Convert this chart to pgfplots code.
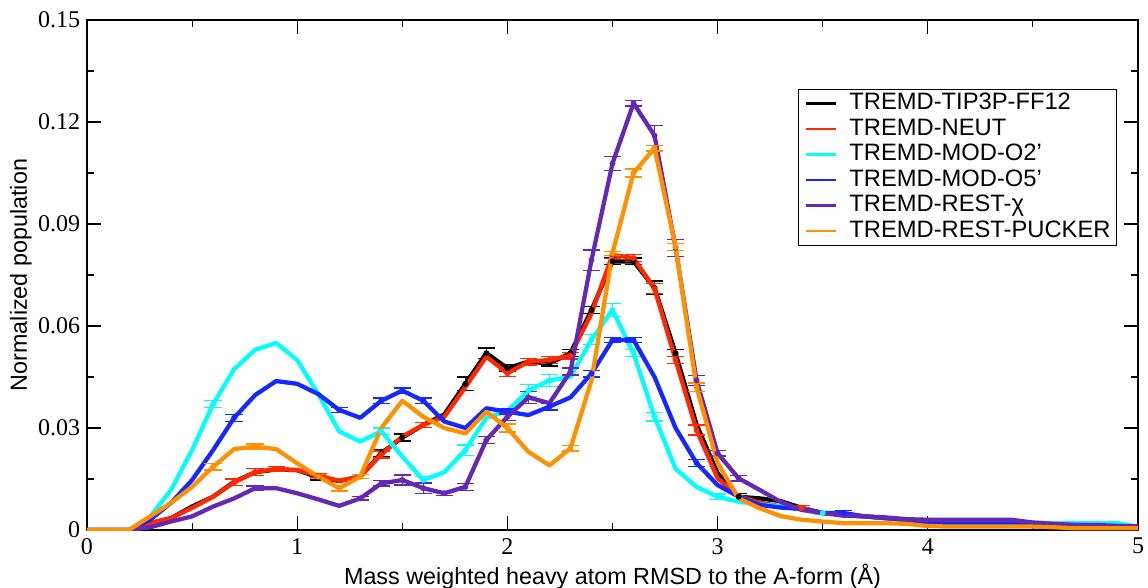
\documentclass[border=0pt]{standalone}
\usepackage{pgfplots}
\pgfplotsset{compat=1.18}
\usepackage{fontspec}
\setmainfont{Liberation Serif}
\newfontfamily\arial{Liberation Sans}
\definecolor{cBlack}{RGB}{0,0,0}
\definecolor{cRed}{RGB}{255,40,0}
\definecolor{cCyan}{RGB}{0,255,255}
\definecolor{cBlue}{RGB}{20,40,255}
\definecolor{cPurple}{RGB}{100,40,180}
\definecolor{cOrange}{RGB}{255,145,0}

\pgfplotstableread{
x y
0.0 0
0.1 0
0.2 0
0.3 0.002
0.4 0.0035
0.5 0.0069
0.6 0.0098
0.7 0.0142
0.8 0.017
0.9 0.0178
1.0 0.0176
1.1 0.0155
1.2 0.0144
1.3 0.0157
1.4 0.0226
1.5 0.0272
1.6 0.0309
1.7 0.034
1.8 0.043
1.9 0.052
2.0 0.0476
2.1 0.0495
2.2 0.049
2.3 0.052
2.4 0.0647
2.5 0.079
2.6 0.079
2.7 0.0712
2.8 0.052
2.9 0.031
3.0 0.0167
3.1 0.0098
3.2 0.0093
3.3 0.0085
3.4 0.0065
3.5 0.005
3.6 0.0045
3.7 0.004
3.8 0.0035
3.9 0.003
4.0 0.0025
4.1 0.0025
4.2 0.002
4.3 0.002
4.4 0.002
4.5 0.002
4.6 0.0015
4.7 0.0015
4.8 0.001
4.9 0.001
5.0 0.0008
}\tipthree

\pgfplotstableread{
x y
0.0 0
0.1 0
0.2 0
0.3 0.002
0.4 0.0035
0.5 0.0065
0.6 0.0098
0.7 0.014
0.8 0.017
0.9 0.018
1.0 0.0176
1.1 0.016
1.2 0.0145
1.3 0.0157
1.4 0.0222
1.5 0.0275
1.6 0.0309
1.7 0.0333
1.8 0.042
1.9 0.051
2.0 0.0461
2.1 0.0495
2.2 0.050
2.3 0.0513
2.4 0.0637
2.5 0.0809
2.6 0.080
2.7 0.071
2.8 0.050
2.9 0.0294
3.0 0.0152
3.1 0.010
3.2 0.008
3.3 0.007
3.4 0.0065
3.5 0.005
3.6 0.0045
3.7 0.004
3.8 0.0035
3.9 0.003
4.0 0.0025
4.1 0.0025
4.2 0.002
4.3 0.002
4.4 0.002
4.5 0.002
4.6 0.0015
4.7 0.0015
4.8 0.001
4.9 0.001
5.0 0.0008
}\neut

\pgfplotstableread{
x y
0.0 0
0.1 0
0.2 0
0.3 0.0039
0.4 0.0118
0.5 0.0235
0.6 0.037
0.7 0.0473
0.8 0.053
0.9 0.055
1.0 0.050
1.1 0.040
1.2 0.029
1.3 0.026
1.4 0.029
1.5 0.0216
1.6 0.0147
1.7 0.017
1.8 0.0235
1.9 0.033
2.0 0.035
2.1 0.041
2.2 0.044
2.3 0.045
2.4 0.056
2.5 0.0647
2.6 0.052
2.7 0.0333
2.8 0.018
2.9 0.0127
3.0 0.0098
3.1 0.0083
3.2 0.0075
3.3 0.007
3.4 0.006
3.5 0.005
3.6 0.0045
3.7 0.004
3.8 0.0035
3.9 0.003
4.0 0.003
4.1 0.0025
4.2 0.0025
4.3 0.0025
4.4 0.0025
4.5 0.0022
4.6 0.002
4.7 0.002
4.8 0.002
4.9 0.002
5.0 0.001
}\modotwo

\pgfplotstableread{
x y
0.0 0
0.1 0
0.2 0
0.3 0.003
0.4 0.008
0.5 0.0147
0.6 0.0235
0.7 0.033
0.8 0.0397
0.9 0.0438
1.0 0.043
1.1 0.040
1.2 0.0353
1.3 0.033
1.4 0.038
1.5 0.041
1.6 0.038
1.7 0.0319
1.8 0.030
1.9 0.0358
2.0 0.0348
2.1 0.0338
2.2 0.0363
2.3 0.039
2.4 0.046
2.5 0.0559
2.6 0.0559
2.7 0.045
2.8 0.030
2.9 0.0197
3.0 0.0132
3.1 0.0098
3.2 0.0074
3.3 0.0066
3.4 0.0062
3.5 0.005
3.6 0.005
3.7 0.004
3.8 0.0035
3.9 0.003
4.0 0.002
4.1 0.002
4.2 0.002
4.3 0.002
4.4 0.002
4.5 0.0018
4.6 0.0015
4.7 0.0015
4.8 0.0012
4.9 0.0012
5.0 0.001
}\modofive

\pgfplotstableread{
x y
0.0 0
0.1 0
0.2 0
0.3 0.0008
0.4 0.0025
0.5 0.004
0.6 0.0069
0.7 0.0093
0.8 0.0123
0.9 0.0123
1.0 0.0108
1.1 0.009
1.2 0.0071
1.3 0.0093
1.4 0.0137
1.5 0.0147
1.6 0.0123
1.7 0.0108
1.8 0.0127
1.9 0.0265
2.0 0.0333
2.1 0.039
2.2 0.0373
2.3 0.0466
2.4 0.0794
2.5 0.1078
2.6 0.1255
2.7 0.116
2.8 0.083
2.9 0.044
3.0 0.0226
3.1 0.0152
3.2 0.0118
3.3 0.0083
3.4 0.0059
3.5 0.005
3.6 0.0042
3.7 0.004
3.8 0.0037
3.9 0.0032
4.0 0.003
4.1 0.003
4.2 0.003
4.3 0.003
4.4 0.003
4.5 0.0022
4.6 0.0018
4.7 0.0015
4.8 0.0015
4.9 0.0012
5.0 0.001
}\restchi

\pgfplotstableread{
x y
0.0 0
0.1 0
0.2 0
0.3 0.004
0.4 0.008
0.5 0.0127
0.6 0.0186
0.7 0.0238
0.8 0.0245
0.9 0.0238
1.0 0.0196
1.1 0.0157
1.2 0.0123
1.3 0.0157
1.4 0.030
1.5 0.038
1.6 0.0333
1.7 0.030
1.8 0.0284
1.9 0.0348
2.0 0.030
2.1 0.023
2.2 0.019
2.3 0.024
2.4 0.044
2.5 0.0814
2.6 0.105
2.7 0.1123
2.8 0.0833
2.9 0.042
3.0 0.0197
3.1 0.0093
3.2 0.0064
3.3 0.0041
3.4 0.003
3.5 0.0025
3.6 0.002
3.7 0.002
3.8 0.002
3.9 0.0018
4.0 0.0012
4.1 0.001
4.2 0.001
4.3 0.001
4.4 0.001
4.5 0.001
4.6 0.0008
4.7 0.0005
4.8 0.0005
4.9 0.0005
5.0 0.0005
}\restpucker

\pgfplotsset{
  errbar/.style={forget plot, only marks, mark=none,
    error bars/y dir=both, error bars/y explicit,
    error bars/error bar style={line width=1pt},
    error bars/error mark options={rotate=90, mark size=6.5pt, line width=1pt}},
  curve/.style={line width=3.2pt, line join=round, mark=none}
}

\begin{document}
\begin{tikzpicture}
\useasboundingbox (-65.25pt,-43.5pt) rectangle (795.75pt,397.5pt);
\begin{axis}[
  at={(0pt,0pt)}, anchor=south west,
  scale only axis, width=788.25pt, height=382.5pt,
  xmin=0, xmax=5, ymin=0, ymax=0.15,
  xtick={0,1,2,3,4,5}, xticklabels={0,1,2,3,4,5},
  ytick={0,0.03,0.06,0.09,0.12,0.15},
  yticklabels={0,0.03,0.06,0.09,0.12,0.15},
  scaled ticks=false,
  minor x tick num=1, minor y tick num=1,
  tick align=inside,
  major tick length=10.5pt, minor tick length=5.25pt,
  axis line style={line width=0.8pt},
  every tick/.style={black, line width=0.8pt},
  ticklabel style={font=\fontsize{18}{20}\selectfont},
  xticklabel style={inner sep=0pt, yshift=-6pt},
  yticklabel style={inner sep=0pt, xshift=-5pt},
  xlabel={Mass weighted heavy atom RMSD to the A-form (Å)},
  ylabel={Normalized population},
  label style={font=\arial\fontsize{17.5}{20}\selectfont},
  xlabel style={at={(axis description cs:0.5,-0.1078)}, anchor=base},
  ylabel style={at={(axis description cs:-0.0571,0.5)}, anchor=base},
  legend cell align=left,
  legend image code/.code={\draw[#1, line width=2pt] (0pt,0pt) -- (22.5pt,0pt);},
  legend style={at={(rel axis cs:0.980,0.865)}, anchor=north east,
    font=\arial\fontsize{17.8}{19}\selectfont, draw=black, line width=0.75pt,
    inner xsep=4.5pt, inner ysep=2.5pt, row sep=2.6pt,
    nodes={inner sep=0pt, text height=12.8pt, text depth=3.7pt},
    /tikz/every odd column/.append style={column sep=9pt}},
]
\addplot[curve, cBlack] table {\tipthree};
\addlegendentry{TREMD-TIP3P-FF12}
\addplot[cBlack, errbar] coordinates {
(1.1,0.0155) +- (0,0.0008)
(1.4,0.0226) +- (0,0.001)
(1.5,0.0272) +- (0,0.001)
(1.8,0.043) +- (0,0.002)
(1.9,0.052) +- (0,0.0015)
(2.0,0.0476) +- (0,0.001)
(2.2,0.049) +- (0,0.0008)
(2.3,0.052) +- (0,0.001)
(2.4,0.0647) +- (0,0.001)
(2.5,0.079) +- (0,0.001)
(2.6,0.079) +- (0,0.001)
(2.7,0.0712) +- (0,0.002)
(2.8,0.052) +- (0,0.001)
(3.1,0.0098) +- (0,0.001)
};
\addplot[curve, cRed] table {\neut};
\addlegendentry{TREMD-NEUT}
\addplot[cRed, errbar] coordinates {
(0.7,0.014) +- (0,0.001)
(0.8,0.017) +- (0,0.001)
(0.9,0.018) +- (0,0.0006)
(1.1,0.016) +- (0,0.0006)
(1.4,0.0222) +- (0,0.001)
(1.6,0.0309) +- (0,0.0008)
(2.0,0.0461) +- (0,0.001)
(2.1,0.0495) +- (0,0.001)
(2.2,0.050) +- (0,0.001)
(2.3,0.0513) +- (0,0.001)
(2.5,0.0809) +- (0,0.001)
(2.6,0.080) +- (0,0.001)
(2.7,0.071) +- (0,0.0015)
(2.8,0.050) +- (0,0.001)
(2.9,0.0294) +- (0,0.0015)
(3.4,0.0065) +- (0,0.0008)
};
\addplot[curve, cCyan] table {\modotwo};
\addlegendentry{TREMD-MOD-O2’}
\addplot[cCyan, errbar] coordinates {
(0.6,0.037) +- (0,0.001)
(1.4,0.029) +- (0,0.001)
(1.6,0.0147) +- (0,0.001)
(1.8,0.0235) +- (0,0.0015)
(2.1,0.041) +- (0,0.0017)
(2.2,0.044) +- (0,0.0017)
(2.4,0.056) +- (0,0.0015)
(2.5,0.0647) +- (0,0.002)
(2.6,0.052) +- (0,0.001)
(2.7,0.0333) +- (0,0.0012)
(3.0,0.0098) +- (0,0.0008)
(3.5,0.005) +- (0,0.0005)
};
\addplot[curve, cBlue] table {\modofive};
\addlegendentry{TREMD-MOD-O5’}
\addplot[cBlue, errbar] coordinates {
(0.7,0.033) +- (0,0.001)
(1.2,0.0353) +- (0,0.0008)
(1.4,0.038) +- (0,0.0008)
(1.5,0.041) +- (0,0.0008)
(1.6,0.038) +- (0,0.0008)
(2.0,0.0348) +- (0,0.0008)
(2.2,0.0363) +- (0,0.001)
(2.4,0.046) +- (0,0.001)
(2.5,0.0559) +- (0,0.0008)
(2.6,0.0559) +- (0,0.0008)
(2.9,0.0197) +- (0,0.001)
(3.6,0.005) +- (0,0.0008)
};
\addplot[curve, cPurple] table {\restchi};
\addlegendentry{TREMD-REST-χ}
\addplot[cPurple, errbar] coordinates {
(0.8,0.0123) +- (0,0.0006)
(1.3,0.0093) +- (0,0.0005)
(1.4,0.0137) +- (0,0.0008)
(1.5,0.0147) +- (0,0.0015)
(1.6,0.0123) +- (0,0.0015)
(1.7,0.0108) +- (0,0.0006)
(1.8,0.0127) +- (0,0.001)
(1.9,0.0265) +- (0,0.001)
(2.0,0.0333) +- (0,0.001)
(2.1,0.039) +- (0,0.0017)
(2.3,0.0466) +- (0,0.001)
(2.4,0.0794) +- (0,0.003)
(2.5,0.1078) +- (0,0.002)
(2.6,0.1255) +- (0,0.0008)
(2.7,0.116) +- (0,0.003)
(2.8,0.083) +- (0,0.0025)
(2.9,0.044) +- (0,0.0015)
(3.0,0.0226) +- (0,0.0008)
(3.1,0.0152) +- (0,0.0008)
};
\addplot[curve, cOrange] table {\restpucker};
\addlegendentry{TREMD-REST-PUCKER}
\addplot[cOrange, errbar] coordinates {
(0.6,0.0186) +- (0,0.001)
(0.8,0.0245) +- (0,0.0008)
(1.1,0.0157) +- (0,0.0006)
(1.2,0.0123) +- (0,0.0008)
(1.3,0.0157) +- (0,0.0006)
(2.0,0.030) +- (0,0.0012)
(2.3,0.024) +- (0,0.0008)
(2.5,0.0814) +- (0,0.0006)
(2.6,0.105) +- (0,0.0012)
(2.7,0.1123) +- (0,0.0008)
(2.8,0.0833) +- (0,0.001)
(2.9,0.042) +- (0,0.0012)
};
\end{axis}
\end{tikzpicture}
\end{document}
